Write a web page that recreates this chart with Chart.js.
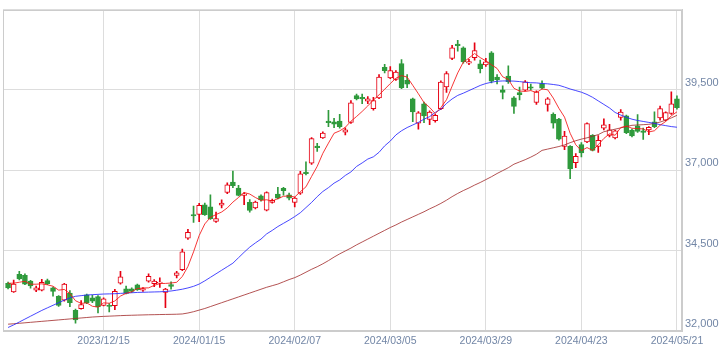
<!DOCTYPE html>
<html>
<head>
<meta charset="utf-8">
<script src="https://cdn.jsdelivr.net/npm/chart.js@4"></script>
<style>
  html, body { margin: 0; padding: 0; background: #fff; }
</style>
</head>
<body>
<canvas id="chart" width="725" height="354"></canvas>
<script>
// trading days 2023/11/21 .. 2024/05/21
const dates = [
  '2023/11/21','2023/11/22','2023/11/24','2023/11/27','2023/11/28','2023/11/29','2023/11/30',
  '2023/12/01','2023/12/04','2023/12/05','2023/12/06','2023/12/07','2023/12/08','2023/12/11','2023/12/12','2023/12/13','2023/12/14','2023/12/15',
  '2023/12/18','2023/12/19','2023/12/20','2023/12/21','2023/12/22','2023/12/25','2023/12/26','2023/12/27','2023/12/28','2023/12/29',
  '2024/01/04','2024/01/05','2024/01/09','2024/01/10','2024/01/11','2024/01/12','2024/01/15',
  '2024/01/16','2024/01/17','2024/01/18','2024/01/19','2024/01/22','2024/01/23','2024/01/24','2024/01/25','2024/01/26','2024/01/29','2024/01/30','2024/01/31',
  '2024/02/01','2024/02/02','2024/02/05','2024/02/06','2024/02/07',
  '2024/02/08','2024/02/09','2024/02/13','2024/02/14','2024/02/15','2024/02/16','2024/02/19','2024/02/20','2024/02/21','2024/02/22','2024/02/26','2024/02/27','2024/02/28','2024/02/29',
  '2024/03/01','2024/03/04','2024/03/05',
  '2024/03/06','2024/03/07','2024/03/08','2024/03/11','2024/03/12','2024/03/13','2024/03/14','2024/03/15','2024/03/18','2024/03/19','2024/03/21','2024/03/22','2024/03/25','2024/03/26','2024/03/27','2024/03/28','2024/03/29',
  '2024/04/01','2024/04/02','2024/04/03','2024/04/04','2024/04/05','2024/04/08','2024/04/09','2024/04/10','2024/04/11','2024/04/12','2024/04/15','2024/04/16','2024/04/17','2024/04/18','2024/04/19','2024/04/22','2024/04/23',
  '2024/04/24','2024/04/25','2024/04/26','2024/04/30',
  '2024/05/01','2024/05/02','2024/05/07','2024/05/08','2024/05/09','2024/05/10','2024/05/13','2024/05/14','2024/05/15','2024/05/16','2024/05/17','2024/05/20','2024/05/21'
];

// days that get a label on the x axis
const tickDays = ['2023/12/15','2024/01/15','2024/02/07','2024/03/05','2024/03/29','2024/04/23','2024/05/21'];

const opens = [
  33487,33214,33760,33729,33556,33274,33274,33566,33344,33080,
  32959,33183,32646,32698,33122,33031,33071,32798,32798,32789,
  33487,33314,33314,33435,33274,33547,33475,33490,33201,33445,
  33729,33911,34891,35620,35630,35923,35862,35407,35913,36308,
  36630,36449,36217,36004,35832,36206,35762,36004,36257,36439,
  36236,36004,36287,36945,37218,37754,38007,38532,38511,38532,
  38189,38493,39321,39271,39148,38917,39252,40201,39877,39828,
  40322,39797,39221,38463,39070,38584,38541,38917,39594,40483,
  40929,40807,40332,40504,40312,40282,40656,39898,39503,39928,
  39252,39421,39494,39594,39109,39695,39048,38745,38593,37743,
  37743,37237,37804,37886,38086,37743,38310,38086,38007,38645,
  38693,38250,38380,38229,38259,38511,38632,38563,38766,39221
];
const highs = [
  33520,33587,33860,33780,33580,33400,33608,33617,33370,33100,
  33480,33260,32680,32950,33150,33120,33100,33030,32850,33300,
  33860,33400,33340,33460,33350,33779,33600,33657,33330,33530,
  33860,34550,35165,35883,35974,35980,36236,35700,36080,36610,
  36976,36530,36310,36090,36040,36240,36330,36105,36469,36470,
  36290,36170,36970,37267,38020,37840,38200,38866,38620,38740,
  38320,39170,39370,39370,39290,39270,39980,40301,40231,40100,
  40444,39980,39250,38830,39120,38850,38740,39780,40070,40890,
  41041,40840,40450,40969,40430,40480,40690,39980,39625,40251,
  39290,39590,39790,39680,39470,39780,39260,38790,38620,38210,
  37770,37520,37860,38480,38110,38080,38600,38430,38250,38890,
  38720,38280,38735,38310,38360,38820,39000,38820,39442,39320
];
const lows = [
  33310,33200,33587,33440,33335,33220,33250,33440,33080,32767,
  32930,32760,32243,32680,32850,32880,32564,32780,32594,32667,
  33460,33150,33200,33260,33230,33520,33380,33353,32728,33300,
  33650,33880,34850,35377,35400,35600,35470,35380,35830,36270,
  36460,36200,35932,35700,35800,36040,35740,35980,36110,36230,
  36080,35862,36250,36860,37180,37590,37990,38359,38330,38310,
  38100,38460,39190,39070,39070,38870,39230,40030,39850,39800,
  39540,39570,38511,38280,38480,38420,38500,38890,39421,40440,
  40707,40330,40290,40430,40029,40230,39720,39690,39221,39700,
  38766,39190,39470,39500,39050,39530,38836,38310,37940,37640,
  36742,37080,37420,37860,37600,37560,38260,38040,37980,38560,
  38140,38040,38180,37960,38110,38330,38560,38540,38740,38900
];
const closes = [
  33344,33456,33617,33456,33405,33344,33517,33465,33232,32798,
  33456,32880,32343,32819,32880,32928,32746,33001,32767,33232,
  33687,33171,33232,33283,33323,33699,33556,33520,33304,33384,
  33810,34467,35073,35580,35913,35620,35498,35498,35983,36551,
  36521,36217,36266,35750,36014,36075,36308,36065,36136,36369,
  36136,36136,36894,36894,37986,37704,38159,38481,38432,38359,
  38259,39100,39221,39221,39221,39170,39898,40100,40100,40058,
  39573,39676,38815,38785,38693,38815,38714,39746,40009,40807,
  40878,40383,40383,40726,40161,40372,39776,39817,39421,39755,
  38987,39351,39755,39554,39442,39554,39221,38463,37965,38068,
  37045,37431,37540,38450,37622,37934,38411,38259,38229,38815,
  38168,38068,38209,38178,38340,38359,38917,38796,39070,38948
];

// moving averages
const ma5 = [
  33487,33487,33517,33547,33456,33456,33468,33437,33393,33271,
  33294,33166,32942,32859,32876,32770,32743,32875,32864,32935,
  33087,33172,33218,33321,33339,33342,33419,33476,33480,33493,
  33515,33697,34008,34463,34969,35331,35537,35622,35702,35830,
  36010,36154,36308,36261,36154,36064,36083,36042,36120,36191,
  36203,36168,36334,36486,36809,37123,37527,37845,38152,38227,
  38338,38526,38674,38832,39004,39187,39346,39522,39698,39865,
  39946,39901,39644,39381,39108,38957,38764,38951,39195,39618,
  40031,40365,40492,40635,40506,40405,40284,40170,39909,39828,
  39551,39466,39454,39480,39418,39531,39505,39247,38929,38654,
  38152,37794,37610,37707,37618,37795,37991,38135,38091,38330,
  38376,38308,38298,38288,38193,38231,38401,38518,38696,38818
];
const ma25 = [
  32109,32190,32280,32370,32460,32550,32640,32720,32800,32880,
  32960,33030,33080,33100,33120,33130,33140,33150,33155,33160,
  33170,33180,33190,33200,33205,33210,33215,33220,33230,33245,
  33270,33300,33340,33390,33460,33560,33670,33780,33890,34000,
  34110,34280,34450,34610,34740,34860,35020,35130,35250,35350,
  35450,35560,35680,35840,36000,36180,36340,36460,36600,36700,
  36840,36950,37120,37230,37350,37420,37560,37760,37910,38100,
  38230,38330,38410,38490,38590,38670,38800,38900,39080,39220,
  39330,39400,39480,39560,39640,39700,39740,39770,39780,39780,
  39775,39760,39740,39725,39720,39700,39690,39670,39645,39590,
  39530,39480,39430,39360,39270,39160,39050,38940,38800,38720,
  38650,38590,38550,38520,38490,38460,38420,38390,38360,38340
];
const ma75 = [
  32212,32225,32240,32255,32270,32285,32300,32315,32330,32345,
  32360,32375,32390,32405,32420,32435,32445,32455,32462,32470,
  32478,32485,32490,32495,32500,32505,32508,32512,32515,32518,
  32522,32530,32560,32600,32650,32700,32760,32820,32880,32940,
  33000,33060,33120,33180,33240,33300,33360,33410,33460,33530,
  33600,33660,33740,33830,33920,34000,34090,34190,34300,34400,
  34490,34580,34680,34770,34860,34950,35040,35130,35220,35300,
  35390,35470,35550,35630,35710,35800,35880,35970,36070,36180,
  36280,36370,36450,36540,36620,36710,36800,36900,36990,37080,
  37190,37260,37330,37410,37500,37620,37660,37700,37740,37790,
  37860,37920,37970,38010,38060,38110,38200,38240,38280,38320,
  38360,38400,38410,38420,38430,38460,38500,38560,38630,38710
];

const yTicks = [32000, 34500, 37000, 39500, 42000];

const RED = '#e60012';
const GREEN = '#2f9a3c';
const LABEL = '#7286a6';
const GRID = '#dddddd';

const rising = closes.map((c, i) => c >= opens[i]);
const tickIdx = tickDays.map(d => dates.indexOf(d));
const pts = arr => arr.map((v, i) => ({ x: i, y: v }));

// grey frame round the plot area
const frame = {
  id: 'frame',
  beforeDatasetsDraw(chart) {
    const a = chart.chartArea, ctx = chart.ctx;
    ctx.save();
    ctx.strokeStyle = '#cccccc';
    ctx.lineWidth = 1;
    ctx.strokeRect(Math.round(a.left) + 0.5, Math.round(a.top) + 0.5,
      Math.round(a.right - a.left) - 1, Math.round(a.bottom - a.top) - 1);
    ctx.restore();
  }
};

new Chart(document.getElementById('chart'), {
  type: 'bar',
  data: {
    datasets: [
      { type: 'line', data: pts(ma5), borderColor: 'rgba(245,20,20,0.85)', borderWidth: 1, pointRadius: 0, order: 0 },
      { type: 'line', data: pts(ma25), borderColor: 'rgba(40,40,255,0.85)', borderWidth: 1, pointRadius: 0, order: 0 },
      { type: 'line', data: pts(ma75), borderColor: 'rgba(160,40,40,0.8)', borderWidth: 1, pointRadius: 0, order: 0 },
      {
        data: opens.map((o, i) => ({ x: i, y: [o, closes[i]] })),
        grouped: false, barThickness: 5, borderWidth: 1, borderSkipped: false,
        backgroundColor: rising.map(r => r ? '#ffffff' : GREEN),
        borderColor: rising.map(r => r ? RED : GREEN),
        order: 1
      },
      {
        data: lows.map((l, i) => ({ x: i, y: [l, highs[i]] })),
        grouped: false, barThickness: 1, borderWidth: 0,
        backgroundColor: rising.map(r => r ? RED : GREEN),
        order: 2
      }
    ]
  },
  options: {
    responsive: false,
    animation: false,
    devicePixelRatio: 1,
    layout: { padding: { left: 3, top: 2, right: 0, bottom: 0 } },
    plugins: { legend: { display: false }, tooltip: { enabled: false } },
    scales: {
      x: {
        type: 'linear',
        min: -0.9,
        max: 119.9,
        offset: false,
        afterBuildTicks: s => { s.ticks = tickIdx.map(v => ({ value: v })); },
        afterFit: s => { s.height = 23; },
        ticks: {
          autoSkip: false, maxRotation: 0, padding: 4,
          color: LABEL, font: { family: 'Arial, "Liberation Sans"', size: 10.5 },
          callback: v => dates[v]
        },
        grid: { color: GRID, drawTicks: false, offset: false },
        border: { color: '#cccccc' }
      },
      y: {
        position: 'right',
        min: 32000,
        max: 42000,
        beginAtZero: false,
        afterBuildTicks: s => { s.ticks = yTicks.map(v => ({ value: v })); },
        afterFit: s => { s.width = 43; },
        ticks: {
          padding: 3, labelOffset: -7,
          color: LABEL, font: { family: 'Arial, "Liberation Sans"', size: 11 },
          callback: v => v === 42000 ? '' : v.toLocaleString('en-US')
        },
        grid: { color: GRID, drawTicks: false },
        border: { color: '#cccccc' }
      }
    }
  },
  plugins: [frame]
});
</script>
</body>
</html>
